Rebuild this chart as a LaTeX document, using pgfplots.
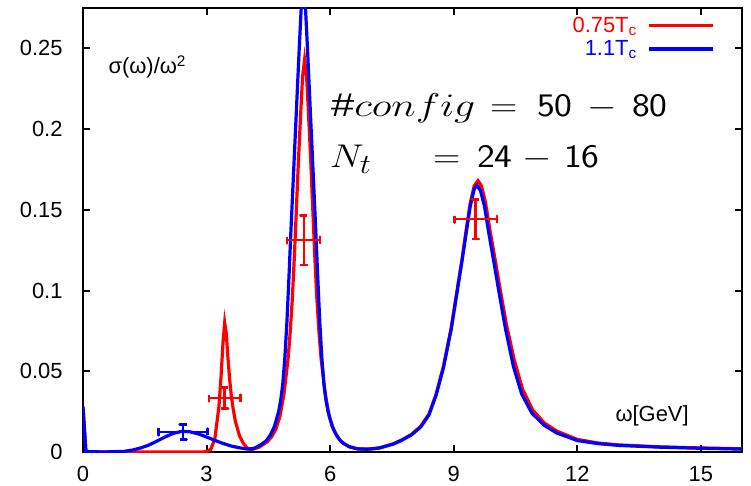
\documentclass[border=0pt]{standalone}
\usepackage{fontspec}
\setmainfont{Liberation Sans}
\usepackage{graphicx}
\usepackage{pgfplots}
\pgfplotsset{compat=1.18}
\pgfplotsset{eb/.style={forget plot, line width=2.4bp, line join=round}}
\newcommand{\ann}[1]{\fontsize{24.88}{30}\selectfont\scalebox{1.525}[1.326]{#1}}
\newcommand{\annw}[1]{\fontsize{24.88}{30}\selectfont\scalebox{1.68}[1.326]{#1}}
\begin{document}
\begin{tikzpicture}
\begin{axis}[
  name=ax,
  at={(0,0)}, anchor=south west,
  scale only axis, width=659bp, height=444bp,
  xmin=0, xmax=16, ymin=0, ymax=0.275,
  xtick={0,3,6,9,12,15},
  ytick={0,0.05,0.1,0.15,0.2,0.25},
  axis line style={line width=2.6bp},
  tick style={line width=2bp, black},
  major tick length=7bp,
  tick align=inside,
  ticklabel style={font=\fontsize{22}{26}\selectfont},
  /pgf/number format/assume math mode=true,
  yticklabel style={/pgf/number format/fixed, /pgf/number format/precision=2, xshift=-17bp},
  xticklabel style={yshift=-11bp},
  scaled y ticks=false,
  legend plot pos=right,
  legend cell align=right,
  legend image code/.code={\draw[#1] (0bp,0bp) -- (64bp,0bp);},
  legend style={draw=none, fill=none, at={(1,1)}, anchor=north east,
    inner sep=0pt, outer sep=0pt,
    xshift=-27bp, yshift=-8bp, font=\fontsize{22}{24}\selectfont,
    nodes={inner sep=1bp},
    row sep=5bp, /tikz/every odd column/.append style={column sep=10bp}},
]
\addplot[red, line width=3.2bp] coordinates {
(0,0.028) (0.07,0.0003) (0.5,0) (1,0) (2,0) (2.9,0) (3.0,0.0003) (3.1,0.0015)
(3.2,0.008) (3.3,0.028) (3.35,0.046) (3.4,0.068) (3.44,0.080) (3.48,0.073)
(3.52,0.058) (3.56,0.045) (3.6,0.035) (3.65,0.026) (3.7,0.019) (3.8,0.010)
(3.9,0.005) (4.0,0.0022) (4.1,0.0015) (4.28,0.003) (4.48,0.0065) (4.58,0.0095)
(4.68,0.014) (4.78,0.022) (4.88,0.036) (4.98,0.058) (5.03,0.074) (5.08,0.094)
(5.13,0.120) (5.18,0.150) (5.23,0.180) (5.28,0.207) (5.33,0.232) (5.38,0.243)
(5.43,0.232) (5.48,0.207) (5.53,0.180) (5.58,0.150) (5.63,0.120) (5.68,0.094)
(5.73,0.074) (5.78,0.058) (5.88,0.036) (5.98,0.022) (6.08,0.014) (6.18,0.0095)
(6.28,0.006) (6.48,0.003) (6.7,0.0018) (7.0,0.0018) (7.2,0.0026) (7.53,0.0050)
(7.75,0.0076) (7.98,0.0110) (8.2,0.016) (8.4,0.0235) (8.57,0.0355) (8.75,0.053)
(8.94,0.077) (9.1,0.103) (9.2,0.119) (9.3,0.137) (9.4,0.154) (9.5,0.165)
(9.59,0.168) (9.67,0.165) (9.77,0.155) (9.87,0.139) (10.0,0.120) (10.12,0.102)
(10.28,0.079) (10.47,0.057) (10.67,0.039) (10.92,0.026) (11.2,0.018) (11.5,0.0130)
(12.0,0.0078) (12.5,0.0056) (13,0.0044) (14,0.0032) (15,0.0025) (16,0.002)
};
\addlegendentry{\textcolor{red}{0.75T\textsubscript{c}}}
\addplot[blue, line width=3.2bp] coordinates {
(0,0.028) (0.07,0.0003) (0.5,0) (1.0,0.0004) (1.2,0.0012) (1.4,0.0025) (1.6,0.0043)
(1.8,0.0068) (2.0,0.0094) (2.2,0.0116) (2.4,0.0128) (2.6,0.0125) (2.8,0.0112)
(3.0,0.0093) (3.2,0.0072) (3.4,0.0053) (3.6,0.0037) (3.8,0.0026) (4.0,0.0018)
(4.15,0.0022) (4.25,0.0035) (4.35,0.005) (4.45,0.007) (4.55,0.0105) (4.65,0.016)
(4.75,0.025) (4.8,0.032) (4.85,0.042) (4.9,0.058) (4.95,0.080) (5.0,0.108)
(5.05,0.138) (5.1,0.166) (5.15,0.194) (5.2,0.222) (5.25,0.250) (5.3,0.276)
(5.35,0.29) (5.4,0.276) (5.45,0.250) (5.5,0.222) (5.55,0.194) (5.6,0.166)
(5.65,0.138) (5.7,0.108) (5.75,0.080) (5.8,0.058) (5.85,0.042) (5.9,0.032)
(5.95,0.025) (6.05,0.016) (6.15,0.0105) (6.25,0.007) (6.35,0.005) (6.45,0.0035)
(6.65,0.002) (6.9,0.0017) (7.2,0.0025) (7.53,0.0049) (7.75,0.0074) (7.98,0.0107)
(8.2,0.0155) (8.4,0.023) (8.57,0.035) (8.75,0.052) (8.94,0.076) (9.1,0.102)
(9.2,0.118) (9.3,0.135) (9.4,0.152) (9.5,0.163) (9.57,0.165) (9.65,0.162)
(9.75,0.152) (9.85,0.136) (9.98,0.117) (10.1,0.099) (10.26,0.076) (10.45,0.053)
(10.65,0.036) (10.9,0.024) (11.2,0.0165) (11.5,0.0118) (12.0,0.0071) (12.5,0.0052)
(13,0.0041) (14,0.003) (15,0.0023) (16,0.0018)
};
\addlegendentry{\textcolor{blue}{1.1T\textsubscript{c}}}
% error bars with caps (centre +- error), drawn as data lines
\addplot[red, eb] coordinates {(3.055,0.03557) (3.055,0.03123) (3.055,0.0334) (3.825,0.0334) (3.825,0.03557) (3.825,0.03123)};
\addplot[red, eb] coordinates {(3.355,0.0269) (3.525,0.0269) (3.44,0.0269) (3.44,0.0399) (3.355,0.0399) (3.525,0.0399)};
\addplot[red, eb] coordinates {(4.96,0.13347) (4.96,0.12913) (4.96,0.1313) (5.76,0.1313) (5.76,0.13347) (5.76,0.12913)};
\addplot[red, eb] coordinates {(5.275,0.116) (5.445,0.116) (5.36,0.116) (5.36,0.1466) (5.275,0.1466) (5.445,0.1466)};
\addplot[red, eb] coordinates {(9.015,0.14637) (9.015,0.14203) (9.015,0.1442) (10.045,0.1442) (10.045,0.14637) (10.045,0.14203)};
\addplot[red, eb] coordinates {(9.445,0.132) (9.615,0.132) (9.53,0.132) (9.53,0.1564) (9.445,0.1564) (9.615,0.1564)};
\addplot[blue, eb] coordinates {(1.835,0.01457) (1.835,0.01023) (1.835,0.0124) (3.025,0.0124) (3.025,0.01457) (3.025,0.01023)};
\addplot[blue, eb] coordinates {(2.345,0.0078) (2.515,0.0078) (2.43,0.0078) (2.43,0.017) (2.345,0.017) (2.515,0.017)};
\end{axis}
\node[anchor=base west, font=\fontsize{22}{26}\selectfont] at ([xshift=22bp,yshift=-66bp]ax.north west) {σ(ω)/ω\textsuperscript{2}};
\node[anchor=base west, font=\fontsize{22}{26}\selectfont] at ([xshift=529bp,yshift=31bp]ax.south west) {ω[GeV]};
\begin{scope}[every node/.style={anchor=base west, inner sep=0pt}]
\node at ([xshift=248bp,yshift=335bp]ax.south west) {\annw{$\#config$}};
\node at ([xshift=407bp,yshift=335bp]ax.south west) {\ann{$=$}};
\node at ([xshift=454bp,yshift=335bp]ax.south west) {\ann{\textsf{50}}};
\node at ([xshift=504bp,yshift=335bp]ax.south west) {\ann{$-$}};
\node at ([xshift=549bp,yshift=335bp]ax.south west) {\ann{\textsf{80}}};
\node at ([xshift=247bp,yshift=284bp]ax.south west) {\ann{$N_t$}};
\node at ([xshift=350bp,yshift=284bp]ax.south west) {\ann{$=$}};
\node at ([xshift=394bp,yshift=284bp]ax.south west) {\ann{\textsf{24}}};
\node at ([xshift=439bp,yshift=284bp]ax.south west) {\ann{$-$}};
\node at ([xshift=481bp,yshift=284bp]ax.south west) {\ann{\textsf{16}}};
\end{scope}
\pgfresetboundingbox
\path[use as bounding box] ([xshift=-83bp,yshift=-34bp]ax.south west) rectangle ([xshift=9bp,yshift=8bp]ax.north east);
\end{tikzpicture}
\end{document}
